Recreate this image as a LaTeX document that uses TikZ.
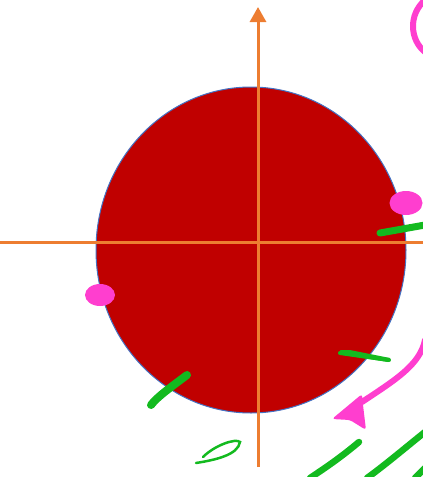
\documentclass[tikz,border=0pt]{standalone}
\usetikzlibrary{arrows.meta}
\definecolor{dred}{HTML}{C00000}
\definecolor{eblue}{HTML}{4472C4}
\definecolor{axor}{HTML}{ED7D31}
\definecolor{pinkk}{HTML}{FF3ECF}
\definecolor{grn}{HTML}{13BA1F}
\tikzset{
  axis/.style={draw=axor, line width=3pt},
  pinkstroke/.style={draw=pinkk, line width=6pt, line cap=round, line join=round},
  pinkblob/.style={fill=pinkk},
  greenstroke/.style={draw=grn, line width=7pt, line cap=round, line join=round},
  greenthin/.style={draw=grn, line width=4pt, line cap=round, line join=round},
}
\begin{document}
\begin{tikzpicture}[x=1pt,y=-1pt]
\useasboundingbox (0,0) rectangle (423,477);
% ellipse
\fill[dred, draw=eblue, line width=1pt] (251,250) ellipse [x radius=155, y radius=163];
% axes
\coordinate (hl) at (0,242);
\coordinate (hr) at (423,242);
\coordinate (vb) at (258,467);
\coordinate (vt) at (258,7);
\draw[axis] (hl) -- (hr);
\draw[axis, -{Triangle[width=16pt,length=15pt]}] (vb) -- (vt);
% pink strokes
\draw[pinkstroke] (425,0) .. controls (408,15) and (410,40) .. (425,52);
\fill[pinkblob] (406,203) ellipse [x radius=16.5, y radius=12];
\fill[pinkblob] (100,295) ellipse [x radius=15, y radius=11];
\draw[pinkstroke] (425,340) .. controls (420,365) and (395,380) .. (362,402);
\fill[pinkk, rounded corners=3pt] (332,419) -- (362,394) -- (363,405) -- (366,430) -- (350,420) -- cycle;
% green strokes
\draw[greenstroke] (380,233) -- (425,225);
\fill[grn] (340,350) -- (343,355) -- (388,362) -- (390,358) -- (350,350) -- cycle;
\draw[greenthin] (340,353) -- (389,360);
\draw[greenstroke, line width=8pt] (187,375) .. controls (170,388) and (158,396) .. (151,405);
\draw[grn, line width=2.5pt, line cap=round] (196,463) .. controls (215,460) and (238,455) .. (240,442) .. controls (236,438) and (215,445) .. (203,457);
\draw[greenstroke, line width=6.5pt] (359,442) .. controls (340,458) and (325,468) .. (310,478);
\draw[greenstroke, line width=6.5pt] (425,432) .. controls (405,448) and (385,465) .. (367,478);
\draw[greenstroke, line width=6.5pt] (425,468) -- (415,478);
\end{tikzpicture}
\end{document}
